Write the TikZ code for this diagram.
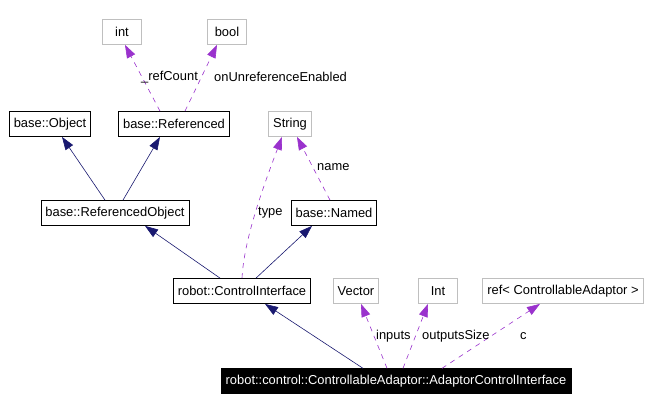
\documentclass[tikz,border=0pt]{standalone}
\usepackage{fontspec}
\setmainfont{Liberation Sans}
\usetikzlibrary{arrows.meta, positioning}
\definecolor{inhblue}{HTML}{191970}
\definecolor{usepurple}{HTML}{9A32CD}
\definecolor{extgray}{HTML}{BFBFBF}

\begin{document}
\begin{tikzpicture}[
    x=1pt, y=-1pt,
    every node/.style={font=\fontsize{12.9}{15}\selectfont},
    cls/.style={rectangle, draw=black, fill=white, line width=0.8pt, minimum height=25pt, inner xsep=4.5pt, inner ysep=0pt},
    ext/.style={rectangle, draw=extgray, fill=white, line width=0.8pt, minimum height=25pt, minimum width=39pt, inner xsep=4.5pt, inner ysep=0pt},
    mainbox/.style={rectangle, draw=black, fill=black, text=white, minimum height=25pt, inner xsep=4.5pt, inner ysep=0pt},
    inherit/.style={draw=inhblue, line width=0.6pt, -{Triangle[length=13pt, width=9pt]}},
    member/.style={draw=usepurple, line width=0.6pt, dash pattern=on 5pt off 5pt, -{Triangle[length=13pt, width=9pt, fill=usepurple]}},
    lbl/.style={inner sep=1pt, anchor=west}
]
\useasboundingbox[fill=white] (0,0) rectangle (652,411);

% classes and member types
\node[ext] (int) at (122,32) {int};
\node[ext] (bool) at (227,32) {bool};
\node[cls] (obj) at (50,124) {base::Object};
\node[cls] (refd) at (174,124) {base::Referenced};
\node[ext] (str) at (290,124) {String};
\node[cls] (refobj) at (115,213) {base::ReferencedObject};
\node[cls] (named) at (334,213) {base::Named};
\node[cls] (ctrl) at (242,291) {robot::ControlInterface};
\node[ext] (vec) at (356,291) {Vector};
\node[ext] (intcap) at (438,291) {Int};
\node[ext] (refca) at (563,291) {ref< ControllableAdaptor >};
\node[mainbox] (aci) at (396,381) {robot::control::ControllableAdaptor::AdaptorControlInterface};

% inheritance
\draw[inherit] ([xshift=-10pt]refobj.north) -- ([xshift=12pt]obj.south);
\draw[inherit] ([xshift=8pt]refobj.north) -- ([xshift=-14pt]refd.south);
\draw[inherit] ([xshift=-22pt]ctrl.north) -- ([xshift=30pt]refobj.south);
\draw[inherit] ([xshift=14pt]ctrl.north) -- ([xshift=-22pt]named.south);
\draw[inherit] ([xshift=-33pt]aci.north) -- ([xshift=23pt]ctrl.south);

% usage
\draw[member] (ctrl.north) .. controls (244,240) and (262,190) .. ([xshift=-8pt]str.south);
\draw[member] ([xshift=-4pt]named.north) -- ([xshift=7pt]str.south);
\draw[member] ([xshift=-14pt]refd.north) -- ([xshift=3pt]int.south);
\draw[member] ([xshift=11pt]refd.north) -- ([xshift=-10pt]bool.south);
\draw[member] ([xshift=-9pt]aci.north) -- ([xshift=5pt]vec.south);
\draw[member] ([xshift=7pt]aci.north) -- ([xshift=-10pt]intcap.south);
\draw[member] ([xshift=46pt]aci.north) -- ([xshift=-23pt]refca.south);

% member names
\node[lbl] (lrefcount) at (140,77) {\_refCount};
\node[lbl] (lonunref) at (213,77) {onUnreferenceEnabled};
\node[lbl] (lname) at (316,167) {name};
\node[lbl] (ltype) at (257,213) {type};
\node[lbl] (linputs) at (375,336) {inputs};
\node[lbl] (loutsize) at (421,336) {outputsSize};
\node[lbl] (lc) at (519,336) {c};
\end{tikzpicture}
\end{document}
